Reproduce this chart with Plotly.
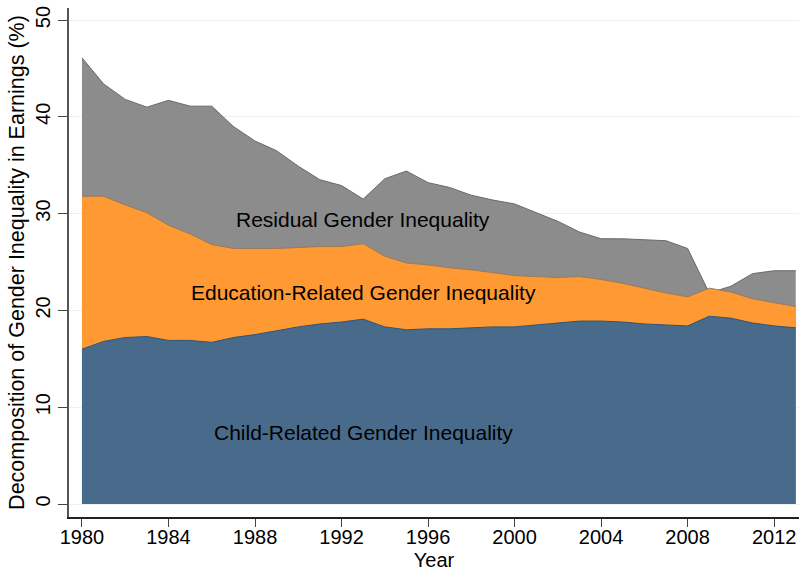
import numpy as np
import plotly.graph_objects as go

# Years 1980-2013
years = list(range(1980, 2014))

# components of the gender gap in earnings (%)
child = [16.0, 16.8, 17.2, 17.3, 16.9, 16.9, 16.7, 17.2, 17.5, 17.9,
         18.3, 18.6, 18.8, 19.1, 18.3, 18.0, 18.1, 18.1, 18.2, 18.3,
         18.3, 18.5, 18.7, 18.9, 18.9, 18.8, 18.6, 18.5, 18.4, 19.4,
         19.2, 18.7, 18.4, 18.2]
education = [15.8, 15.0, 13.7, 12.8, 11.9, 11.0, 10.1, 9.2, 8.9, 8.5,
             8.2, 8.0, 7.8, 7.8, 7.3, 6.9, 6.6, 6.3, 6.0, 5.6,
             5.3, 5.0, 4.7, 4.6, 4.3, 4.0, 3.7, 3.3, 3.0, 2.9,
             2.7, 2.5, 2.4, 2.2]
residual = [14.3, 11.6, 10.9, 10.9, 12.9, 13.2, 14.3, 12.6, 11.1, 10.1,
            8.4, 6.9, 6.3, 4.6, 8.0, 9.5, 8.5, 8.3, 7.7, 7.5,
            7.4, 6.6, 5.8, 4.6, 4.2, 4.6, 5.0, 5.4, 5.0, -0.5,
            0.6, 2.6, 3.3, 3.7]

x_ticks = list(range(1980, 2013, 4))
y_ticks = [0, 10, 20, 30, 40, 50]

labels = ["Residual Gender Inequality",
          "Education-Related Gender Inequality",
          "Child-Related Gender Inequality"]
label_y = [29.4, 21.9, 7.4]

child_top = np.array(child)
edu_top = child_top + np.array(education)
total = edu_top + np.array(residual)

FONT = "Liberation Sans, Arial, sans-serif"

fig = go.Figure()
# drawn back to front, each area filled down to zero (like Stata's twoway area)
fig.add_trace(go.Scatter(x=years, y=total, mode="lines", fill="tozeroy",
                         fillcolor="#8c8c8c", line=dict(color="#6a6a6a", width=1)))
fig.add_trace(go.Scatter(x=years, y=edu_top, mode="lines", fill="tozeroy",
                         fillcolor="#fe9934", line=dict(color="#9a7a5a", width=1)))
fig.add_trace(go.Scatter(x=years, y=child_top, mode="lines", fill="tozeroy",
                         fillcolor="#486b8b", line=dict(color="#2f5577", width=1)))

for txt, yy in zip(labels, label_y):
    fig.add_annotation(x=1993.0, y=yy, text=txt, showarrow=False,
                       font=dict(size=21, color="black", family=FONT))

fig.update_layout(
    width=799, height=571,
    margin=dict(l=69, r=0, t=8, b=54),
    paper_bgcolor="white", plot_bgcolor="white",
    showlegend=False,
    font=dict(family=FONT, size=20, color="black"),
    xaxis=dict(range=[1979.4, 2013.15], tickvals=x_ticks, showgrid=False,
               showline=True, linecolor="#222", linewidth=1.5,
               ticks="outside", ticklen=8, tickcolor="#444",
               tickfont=dict(size=20), automargin=False,
               ticklabeloverflow="allow", ticklabelstandoff=-7,
               title=dict(text="Year", standoff=7, font=dict(size=20)),
               zeroline=False),
    yaxis=dict(range=[-1.34, 51.24], tickvals=y_ticks, tickangle=-90,
               showgrid=True, gridcolor="#eaf2f3", gridwidth=1,
               showline=True, linecolor="#555", linewidth=1.5,
               ticks="outside", ticklen=9, tickcolor="#444",
               tickfont=dict(size=20), automargin=False,
               ticklabeloverflow="allow",
               title=dict(text="Decomposition of Gender Inequality in Earnings (%)",
                          standoff=2, font=dict(size=21.5)),
               zeroline=False),
)

# drop the page's default body margin so the figure fills the window exactly
fig.write_html("out.html", config={"displayModeBar": False},
               post_script="document.body.style.margin='0';")
